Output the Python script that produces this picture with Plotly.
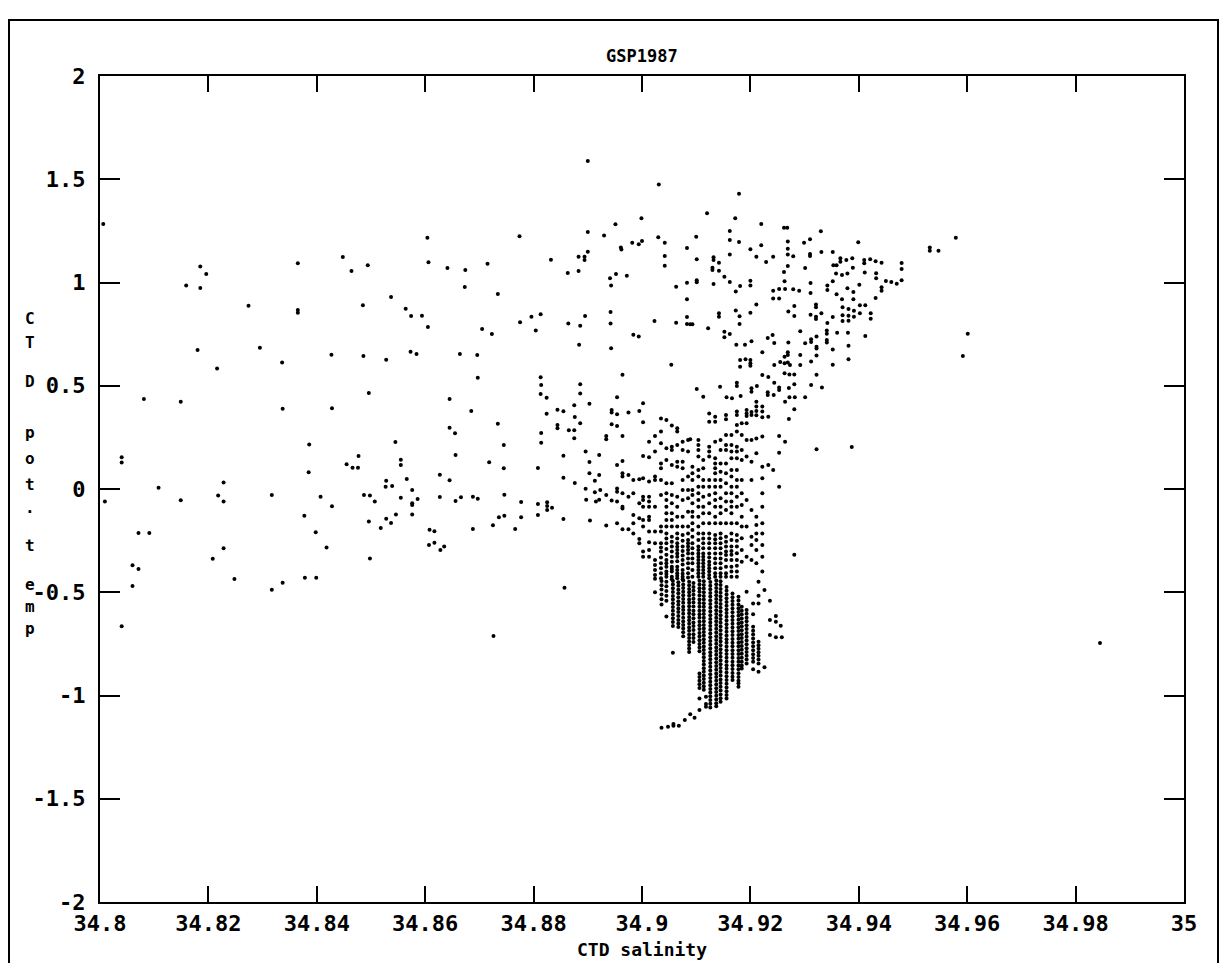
import plotly.graph_objects as go

# ---------------------------------------------------------------------------
# GSP 1987 CTD section: potential temperature vs salinity
# ---------------------------------------------------------------------------

x_ticks = [34.8, 34.82, 34.84, 34.86, 34.88, 34.9, 34.92, 34.94, 34.96, 34.98, 35.0]
x_labels = ["34.8", "34.82", "34.84", "34.86", "34.88", "34.9", "34.92", "34.94", "34.96", "34.98", "35"]
y_ticks = [-2, -1.5, -1, -0.5, 0, 0.5, 1, 1.5, 2]
y_labels = ["-2", "-1.5", "-1", "-0.5", "0", "0.5", "1", "1.5", "2"]

# Scattered samples west of the core (salinity, pot. temp)
west_pairs = [
    (34.8006, 1.283), (34.8081, 0.436), (34.8149, 0.423), (34.8159, 0.985), (34.8185, 1.077),
    (34.8196, 1.041), (34.8185, 0.973), (34.8180, 0.673), (34.8216, 0.583), (34.8274, 0.888),
    (34.8295, 0.684), (34.8336, 0.612), (34.8337, 0.389), (34.8365, 1.093), (34.8365, 0.867),
    (34.8365, 0.854), (34.8386, 0.216), (34.8427, 0.650), (34.8428, 0.391), (34.8448, 1.124),
    (34.8464, 1.056), (34.8494, 1.083), (34.8485, 0.890), (34.8486, 0.644), (34.8496, 0.465),
    (34.8537, 0.930), (34.8528, 0.626), (34.8545, 0.228), (34.8564, 0.873), (34.8574, 0.838),
    (34.8594, 0.839), (34.8605, 0.785), (34.8573, 0.665), (34.8584, 0.654), (34.8604, 1.217),
    (34.8606, 1.098), (34.8641, 1.070), (34.8674, 1.061), (34.8673, 0.978), (34.8645, 0.436),
    (34.8645, 0.297), (34.8655, 0.270), (34.8664, 0.654), (34.8696, 0.649), (34.8697, 0.539),
    (34.8685, 0.378), (34.8705, 0.775), (34.8723, 0.751), (34.8715, 1.091), (34.8734, 0.944),
    (34.8734, 0.316), (34.8745, 0.213), (34.8774, 1.224), (34.8775, 0.807), (34.8796, 0.834),
    (34.8804, 0.768), (34.8813, 0.846), (34.8813, 0.541), (34.8814, 0.504), (34.8813, 0.460),
    (34.8824, 0.442), (34.8824, 0.365), (34.8814, 0.271), (34.8814, 0.224), (34.8832, 1.110),
    (34.8844, 0.384), (34.8855, 0.376), (34.8844, 0.310), (34.8844, 0.294), (34.8865, 0.284),
    (34.8875, 0.284), (34.8875, 0.246), (34.8875, 0.405), (34.8876, 0.349), (34.8886, 0.318),
    (34.8886, 0.462), (34.8886, 0.507), (34.8903, 0.413), (34.8863, 1.046), (34.8883, 1.056),
    (34.8883, 1.125), (34.8894, 1.125), (34.8894, 1.109), (34.8900, 1.149), (34.8900, 1.245),
    (34.8900, 1.588), (34.8864, 0.801), (34.8886, 0.791), (34.8895, 0.838), (34.8884, 0.699),
    (34.8040, 0.154), (34.8040, 0.128), (34.8009, -0.060), (34.8108, 0.006), (34.8071, -0.213),
    (34.8091, -0.213), (34.8060, -0.369), (34.8071, -0.387), (34.8060, -0.470), (34.8040, -0.665),
    (34.8149, -0.055), (34.8218, -0.032), (34.8228, 0.031), (34.8228, -0.061), (34.8228, -0.287),
    (34.8208, -0.338), (34.8248, -0.436), (34.8317, -0.029), (34.8317, -0.488), (34.8337, -0.454),
    (34.8378, -0.430), (34.8399, -0.430), (34.8385, 0.081), (34.8407, -0.037), (34.8428, -0.084),
    (34.8377, -0.129), (34.8398, -0.210), (34.8418, -0.283), (34.8455, 0.120), (34.8466, 0.103),
    (34.8476, 0.103), (34.8477, 0.160), (34.8487, -0.029), (34.8498, -0.032), (34.8507, -0.061),
    (34.8496, -0.157), (34.8498, -0.336), (34.8528, 0.040), (34.8527, 0.011), (34.8539, 0.015),
    (34.8555, 0.142), (34.8555, 0.116), (34.8566, 0.048), (34.8576, -0.005), (34.8555, -0.042),
    (34.8576, -0.069), (34.8576, -0.078), (34.8586, -0.048), (34.8576, -0.123), (34.8528, -0.144),
    (34.8537, -0.165), (34.8546, -0.124), (34.8518, -0.189), (34.8608, -0.197), (34.8617, -0.205),
    (34.8607, -0.271), (34.8617, -0.260), (34.8628, -0.295), (34.8635, -0.278), (34.8627, 0.069),
    (34.8645, 0.042), (34.8627, -0.039), (34.8656, 0.165), (34.8656, -0.058), (34.8666, -0.040),
    (34.8688, -0.037), (34.8697, -0.047), (34.8688, -0.194), (34.8718, 0.129), (34.8745, 0.100),
    (34.8746, -0.028), (34.8746, -0.129), (34.8736, -0.137), (34.8725, -0.176), (34.8766, -0.194),
    (34.8777, -0.063), (34.8777, -0.137), (34.8726, -0.712), (34.8808, 0.102), (34.8808, -0.073),
    (34.8808, -0.126), (34.8825, -0.064), (34.8825, -0.082), (34.8825, -0.102), (34.8834, -0.091),
    (34.8855, 0.161), (34.8855, 0.055), (34.8876, 0.029), (34.8855, -0.145), (34.8857, -0.478),
    (34.8896, 0.181), (34.8903, 0.131), (34.8903, 0.076), (34.8913, 0.040), (34.8896, 0.001),
    (34.8897, -0.052), (34.8913, -0.016), (34.8915, -0.060), (34.8904, -0.152), (34.8921, 0.165),
    (34.8921, 0.068), (34.8921, -0.052),
]

# Warm, saline upper layer (salinity, pot. temp)
upper_pairs = [
    (34.9031, 1.474), (34.9179, 1.430), (34.8999, 1.311), (34.9120, 1.335), (34.9172, 1.311),
    (34.8951, 1.282), (34.8930, 1.227), (34.8961, 1.169), (34.8962, 1.160), (34.8982, 1.193),
    (34.8994, 1.185), (34.9000, 1.201), (34.9030, 1.219), (34.9042, 1.193), (34.9100, 1.222),
    (34.9083, 1.167), (34.9101, 1.112), (34.9042, 1.128), (34.9042, 1.081), (34.8941, 1.020),
    (34.8952, 1.041), (34.8943, 0.986), (34.8972, 1.033), (34.9063, 0.980), (34.9083, 0.999),
    (34.9101, 1.011), (34.9101, 1.001), (34.9083, 0.919), (34.8942, 0.857), (34.8942, 0.801),
    (34.8943, 0.681), (34.8984, 0.747), (34.8994, 0.739), (34.9023, 0.814), (34.9063, 0.805),
    (34.9083, 0.833), (34.9083, 0.799), (34.9089, 0.798), (34.9093, 0.798), (34.9122, 0.778),
    (34.9054, 0.602), (34.8964, 0.553), (34.8954, 0.444), (34.9101, 0.484), (34.9113, 0.447),
    (34.9220, 1.283), (34.9262, 1.265), (34.9268, 1.265), (34.9330, 1.248), (34.9162, 1.249),
    (34.9162, 1.206), (34.9179, 1.196), (34.9220, 1.180), (34.9269, 1.198), (34.9269, 1.164),
    (34.9269, 1.136), (34.9200, 1.161), (34.9162, 1.135), (34.9211, 1.125), (34.9242, 1.125),
    (34.9279, 1.127), (34.9299, 1.193), (34.9310, 1.209), (34.9310, 1.138), (34.9310, 1.128),
    (34.9331, 1.148), (34.9352, 1.148), (34.9399, 1.195), (34.9132, 1.122), (34.9132, 1.109),
    (34.9142, 1.096), (34.9130, 1.072), (34.9130, 1.061), (34.9142, 1.057), (34.9229, 1.099),
    (34.9269, 1.080), (34.9301, 1.070), (34.9366, 1.117), (34.9366, 1.101), (34.9377, 1.109),
    (34.9388, 1.117), (34.9353, 1.083), (34.9359, 1.083), (34.9389, 1.072), (34.9410, 1.109),
    (34.9410, 1.093), (34.9421, 1.112), (34.9431, 1.103), (34.9442, 1.096), (34.9479, 1.094),
    (34.9479, 1.065), (34.9479, 1.011), (34.9470, 0.994), (34.9460, 1.002), (34.9450, 1.007),
    (34.9432, 1.045), (34.9432, 1.020), (34.9442, 0.977), (34.9442, 0.960), (34.9411, 1.048),
    (34.9358, 1.043), (34.9369, 1.036), (34.9379, 1.044), (34.9352, 1.006), (34.9342, 0.985),
    (34.9342, 0.964), (34.9401, 0.989), (34.9379, 0.972), (34.9390, 0.954), (34.9359, 0.943),
    (34.9369, 0.919), (34.9390, 0.919), (34.9431, 0.925), (34.9402, 0.890), (34.9412, 0.890),
    (34.9370, 0.880), (34.9381, 0.872), (34.9391, 0.863), (34.9402, 0.851), (34.9422, 0.851),
    (34.9370, 0.841), (34.9381, 0.839), (34.9391, 0.834), (34.9422, 0.825), (34.9370, 0.814),
    (34.9381, 0.815), (34.9321, 0.894), (34.9321, 0.880), (34.9311, 0.844), (34.9321, 0.834),
    (34.9321, 0.823), (34.9331, 0.851), (34.9352, 0.833), (34.9342, 0.804), (34.9341, 0.767),
    (34.9341, 0.752), (34.9360, 0.757), (34.9380, 0.757), (34.9412, 0.741), (34.9341, 0.722),
    (34.9341, 0.710), (34.9352, 0.675), (34.9381, 0.694), (34.9381, 0.628), (34.9352, 0.602),
    (34.9322, 0.738), (34.9322, 0.689), (34.9322, 0.680), (34.9312, 0.725), (34.9312, 0.712),
    (34.9301, 0.706), (34.9322, 0.646), (34.9292, 0.764), (34.9312, 0.618), (34.9322, 0.553),
    (34.9332, 0.491), (34.9312, 0.504), (34.9301, 0.444), (34.9270, 0.709), (34.9241, 0.746),
    (34.9232, 0.731), (34.9244, 0.707), (34.9222, 0.662), (34.9190, 0.699), (34.9174, 0.699),
    (34.9202, 0.715), (34.9152, 0.762), (34.9162, 0.751), (34.9152, 0.735), (34.9142, 0.851),
    (34.9142, 0.834), (34.9173, 0.865), (34.9180, 0.836), (34.9180, 0.799), (34.9200, 0.854),
    (34.9211, 0.894), (34.9132, 0.993), (34.9152, 1.028), (34.9162, 1.002), (34.9173, 0.957),
    (34.9181, 0.983), (34.9200, 1.009), (34.9200, 0.986), (34.9242, 0.960), (34.9253, 0.968),
    (34.9264, 0.968), (34.9242, 0.922), (34.9253, 0.922), (34.9263, 1.006), (34.9262, 1.051),
    (34.9279, 0.967), (34.9290, 0.960), (34.9311, 0.998), (34.9311, 0.949), (34.9270, 0.859),
    (34.9281, 0.886), (34.9281, 0.838), (34.9269, 0.662), (34.9269, 0.649), (34.9263, 0.641),
    (34.9263, 0.609), (34.9269, 0.612), (34.9273, 0.600), (34.9255, 0.615), (34.9244, 0.600),
    (34.9292, 0.649), (34.9292, 0.600), (34.9263, 0.560), (34.9272, 0.555), (34.9281, 0.555),
    (34.9222, 0.552), (34.9233, 0.542), (34.9244, 0.515), (34.9212, 0.499), (34.9202, 0.488),
    (34.9202, 0.471), (34.9175, 0.515), (34.9175, 0.499), (34.9144, 0.495), (34.9156, 0.444),
    (34.9166, 0.439), (34.9182, 0.450), (34.9232, 0.468), (34.9232, 0.455), (34.9243, 0.455),
    (34.9253, 0.492), (34.9253, 0.479), (34.9271, 0.489), (34.9281, 0.507), (34.9272, 0.444),
    (34.9282, 0.444), (34.9579, 1.217), (34.9531, 1.170), (34.9531, 1.154), (34.9547, 1.154),
    (34.9601, 0.752), (34.9592, 0.644), (34.9200, 0.597), (34.9191, 0.628), (34.9181, 0.625),
    (34.9181, 0.592), (34.9200, 0.625), (34.9200, 0.609),
]

# Intermediate layer, loose samples (salinity, pot. temp)
middle_pairs = [
    (34.8944, 0.383), (34.8944, 0.370), (34.8954, 0.362), (34.8975, 0.370), (34.8995, 0.378),
    (34.8944, 0.313), (34.8954, 0.305), (34.8934, 0.257), (34.8934, 0.241), (34.8964, 0.257),
    (34.9089, 0.241), (34.8954, 0.116), (34.8964, 0.136), (34.8964, 0.076), (34.8964, 0.060),
    (34.8975, 0.068), (34.8984, 0.044), (34.8995, 0.047), (34.8923, -0.005), (34.8934, -0.029),
    (34.8944, -0.056), (34.8954, 0.003), (34.8954, -0.013), (34.8964, -0.021), (34.8975, -0.037),
    (34.8984, -0.021), (34.8954, -0.061), (34.8964, -0.086), (34.8964, -0.094), (34.8995, -0.069),
    (34.8984, -0.126), (34.8995, -0.142), (34.8984, -0.166), (34.8934, -0.177), (34.8954, -0.166),
    (34.8964, -0.195), (34.8975, -0.195), (34.8984, -0.215), (34.8995, -0.242), (34.8995, -0.263),
    (34.9233, 0.350), (34.9233, 0.116), (34.9242, 0.092), (34.9253, 0.257), (34.9253, 0.176),
    (34.9253, 0.011), (34.9264, 0.423), (34.9264, 0.229), (34.9271, 0.339), (34.9281, 0.386),
    (34.9281, -0.319), (34.9322, 0.192), (34.9387, 0.203),
]

# Deep and bottom water, loose samples (salinity, pot. temp)
deep_pairs = [
    (34.9236, -0.634), (34.9247, -0.615), (34.9247, -0.643), (34.9256, -0.662), (34.9236, -0.707),
    (34.9247, -0.718), (34.9258, -0.718), (34.9226, -0.863), (34.9236, -0.541), (34.9226, -0.489),
    (34.9024, -0.500), (34.9036, -1.156), (34.9048, -1.151), (34.9058, -1.138), (34.9058, -1.146),
    (34.9068, -1.146), (34.9079, -1.119), (34.9089, -1.091), (34.9097, -1.108), (34.9106, -1.070),
    (34.9106, -1.014), (34.9118, -1.054), (34.9118, -1.041), (34.9118, -1.006), (34.9845, -0.746),
]

# Profiles that share one salinity reading: (salinity, [pot. temps])
mid_profiles = [
    (34.9002, [0.415, 0.323, 0.160, 0.052, -0.037, -0.053, -0.086, -0.150, -0.182, -0.303, -0.328]),
    (34.9013, [0.229, 0.154, 0.036, -0.037, -0.061, -0.086, -0.134, -0.150, -0.206, -0.258, -0.295, -0.328]),
    (34.9024, [0.257, 0.181, 0.060, 0.044, -0.086, -0.206, -0.263, -0.344, -0.368, -0.392, -0.416, -0.435]),
    (34.9035, [0.342, 0.278, 0.221, 0.124, 0.100, 0.044, -0.029, -0.182, -0.206, -0.263, -0.283, -0.303,
               -0.332, -0.360, -0.384, -0.408, -0.432]),
    (34.9045, [0.334, 0.197, 0.141, 0.028, -0.021, -0.053, -0.086, -0.118, -0.150, -0.182, -0.215, -0.240,
               -0.263, -0.290, -0.319, -0.344, -0.360, -0.376, -0.400, -0.412, -0.425]),
    (34.9055, [0.307, 0.205, 0.189, 0.116, 0.028, -0.029, -0.069, -0.118, -0.150, -0.182, -0.231, -0.255,
               -0.279, -0.303, -0.328, -0.352, -0.376, -0.388, -0.400, -0.425, -0.437]),
    (34.9065, [0.294, 0.278, 0.213, 0.132, 0.108, -0.037, -0.086, -0.134, -0.182, -0.215, -0.240, -0.263,
               -0.280, -0.295, -0.312, -0.328, -0.350, -0.376, -0.392, -0.408, -0.420, -0.432]),
    (34.9075, [0.229, 0.189, 0.132, 0.100, 0.044, -0.005, -0.053, -0.134, -0.182, -0.223, -0.250, -0.279,
               -0.300, -0.322, -0.344, -0.366, -0.392, -0.410, -0.425, -0.437]),
    (34.9085, [0.237, 0.181, 0.060, -0.005, -0.045, -0.110, -0.182, -0.215, -0.247, -0.263, -0.279, -0.296,
               -0.312, -0.336, -0.360, -0.384, -0.408, -0.428]),
    (34.9093, [0.108, 0.076, 0.044, -0.005, -0.029, -0.069, -0.110, -0.134, -0.166, -0.199, -0.231, -0.263,
               -0.287, -0.312, -0.336, -0.360, -0.392, -0.425]),
    (34.9104, [0.237, 0.213, 0.189, 0.157, 0.092, 0.060, 0.011, -0.021, -0.053, -0.086, -0.134, -0.182,
               -0.215, -0.247, -0.279, -0.296, -0.312, -0.328, -0.344, -0.360, -0.376, -0.392, -0.408,
               -0.425]),
    (34.9113, [0.141, 0.100, 0.044, 0.011, -0.037, -0.086, -0.118, -0.166, -0.215, -0.240, -0.263, -0.287,
               -0.312, -0.328, -0.344, -0.360, -0.376, -0.392, -0.408, -0.425]),
    (34.9124, [0.366, 0.326, 0.205, 0.181, 0.157, 0.044, 0.011, -0.029, -0.069, -0.118, -0.166, -0.215,
               -0.240, -0.263, -0.287, -0.312, -0.332, -0.352, -0.368, -0.384, -0.400, -0.416, -0.432]),
    (34.9135, [0.350, 0.326, 0.229, 0.149, 0.124, 0.100, 0.076, 0.044, 0.011, -0.021, -0.053, -0.086,
               -0.134, -0.166, -0.223, -0.243, -0.263, -0.287, -0.312, -0.336, -0.360, -0.384, -0.408,
               -0.425]),
    (34.9145, [0.237, 0.189, 0.124, 0.084, 0.044, 0.011, -0.045, -0.086, -0.118, -0.166, -0.215, -0.239,
               -0.263, -0.287, -0.312, -0.336, -0.360, -0.384, -0.408, -0.425]),
    (34.9155, [0.358, 0.338, 0.262, 0.213, 0.189, 0.124, 0.076, 0.028, -0.021, -0.061, -0.102, -0.166,
               -0.231, -0.255, -0.279, -0.303, -0.320, -0.344, -0.376, -0.408, -0.425]),
    (34.9165, [0.262, 0.213, 0.181, 0.149, 0.092, 0.060, 0.011, -0.021, -0.061, -0.086, -0.118, -0.166,
               -0.215, -0.247, -0.279, -0.300, -0.319, -0.344, -0.376, -0.400, -0.425]),
    (34.9175, [0.375, 0.358, 0.310, 0.278, 0.205, 0.181, 0.149, 0.092, 0.044, 0.011, -0.037, -0.086,
               -0.166, -0.223, -0.251, -0.279, -0.311, -0.344, -0.372, -0.400, -0.425]),
    (34.9184, [0.318, 0.262, 0.189, 0.141, 0.044, -0.021, -0.077, -0.134, -0.182, -0.239, -0.295, -0.352]),
    (34.9193, [0.383, 0.366, 0.354, 0.318, 0.237, 0.157, -0.053, -0.182, -0.328]),
    (34.9202, [0.373, 0.358, 0.237, 0.132, 0.044, -0.102, -0.231, -0.271, -0.344]),
    (34.9211, [0.423, 0.399, 0.378, 0.357, 0.245, 0.173, -0.134, -0.174, -0.215, -0.247, -0.295, -0.360]),
    (34.9222, [0.399, 0.375, 0.347, 0.254, 0.108, 0.052, -0.021, -0.086, -0.166, -0.215, -0.271, -0.328,
               -0.400]),
]

deep_profiles = [
    (34.9036, [-0.445, -0.466, -0.487, -0.511, -0.534, -0.559]),
    (34.9045, [-0.449, -0.471, -0.494, -0.517, -0.541, -0.618]),
    (34.9057, [-0.446, -0.463, -0.481, -0.499, -0.518, -0.535, -0.553, -0.572, -0.589, -0.608, -0.626,
               -0.644, -0.663, -0.793]),
    (34.9067, [-0.452, -0.469, -0.488, -0.505, -0.524, -0.543, -0.561, -0.579, -0.596, -0.615, -0.634,
               -0.651, -0.668]),
    (34.9076, [-0.443, -0.462, -0.480, -0.497, -0.514, -0.533, -0.551, -0.570, -0.586, -0.604, -0.623,
               -0.642, -0.659, -0.676, -0.694, -0.713]),
    (34.9087, [-0.449, -0.466, -0.484, -0.500, -0.517, -0.535, -0.551, -0.568, -0.586, -0.602, -0.620,
               -0.636, -0.653, -0.671, -0.687, -0.705, -0.721, -0.738, -0.755, -0.773, -0.789]),
    (34.9095, [-0.455, -0.475, -0.493, -0.512, -0.532, -0.550, -0.569, -0.589, -0.607, -0.626, -0.646,
               -0.664, -0.683, -0.703, -0.721, -0.741]),
    (34.9106, [-0.444, -0.462, -0.481, -0.498, -0.516, -0.535, -0.552, -0.570, -0.589, -0.606, -0.624,
               -0.643, -0.660, -0.678, -0.697, -0.714, -0.732, -0.751, -0.768, -0.786, -0.893, -0.911,
               -0.928, -0.946, -0.964]),
    (34.9114, [-0.447, -0.465, -0.482, -0.500, -0.518, -0.535, -0.553, -0.570, -0.588, -0.605, -0.623,
               -0.640, -0.658, -0.675, -0.693, -0.710, -0.728, -0.745, -0.763, -0.780, -0.798, -0.815,
               -0.833, -0.850, -0.868, -0.885, -0.903, -0.920, -0.938, -0.955, -0.972]),
    (34.9126, [-0.450, -0.468, -0.486, -0.504, -0.521, -0.539, -0.557, -0.575, -0.593, -0.611, -0.629,
               -0.647, -0.664, -0.682, -0.700, -0.718, -0.736, -0.754, -0.772, -0.790, -0.807, -0.825,
               -0.843, -0.861, -0.879, -0.897, -0.915, -0.933, -0.950, -0.968, -0.986, -1.004, -1.022,
               -1.040, -1.058]),
    (34.9137, [-0.443, -0.461, -0.479, -0.497, -0.515, -0.533, -0.551, -0.569, -0.587, -0.605, -0.623,
               -0.641, -0.659, -0.677, -0.695, -0.713, -0.731, -0.749, -0.767, -0.785, -0.803, -0.821,
               -0.839, -0.857, -0.875, -0.893, -0.911, -0.929, -0.947, -0.965, -0.983, -1.001, -1.019,
               -1.037, -1.052]),
    (34.9145, [-0.447, -0.465, -0.484, -0.502, -0.520, -0.538, -0.557, -0.575, -0.593, -0.611, -0.630,
               -0.648, -0.666, -0.684, -0.703, -0.721, -0.739, -0.757, -0.776, -0.794, -0.812, -0.830,
               -0.849, -0.867, -0.885, -0.903, -0.922, -0.940, -0.958, -0.976, -0.995, -1.013, -1.030]),
    (34.9156, [-0.475, -0.493, -0.511, -0.529, -0.547, -0.565, -0.583, -0.601, -0.619, -0.637, -0.655,
               -0.673, -0.691, -0.709, -0.727, -0.745, -0.763, -0.781, -0.799, -0.817, -0.835, -0.853,
               -0.871, -0.889, -0.907, -0.925, -0.943, -0.961, -0.979, -0.997, -1.014]),
    (34.9167, [-0.506, -0.524, -0.542, -0.561, -0.579, -0.597, -0.616, -0.634, -0.652, -0.671, -0.689,
               -0.707, -0.726, -0.744, -0.762, -0.781, -0.799, -0.817, -0.836, -0.854, -0.872, -0.891,
               -0.909, -0.925]),
    (34.9178, [-0.522, -0.540, -0.559, -0.577, -0.596, -0.614, -0.633, -0.651, -0.670, -0.688, -0.707,
               -0.725, -0.744, -0.762, -0.781, -0.799, -0.818, -0.836, -0.855, -0.873, -0.892, -0.910,
               -0.929, -0.941, -0.958]),
    (34.9184, [-0.570, -0.589, -0.608, -0.627, -0.646, -0.665, -0.684, -0.703, -0.722, -0.741, -0.760,
               -0.779, -0.798, -0.817, -0.836, -0.855, -0.869]),
    (34.9193, [-0.497, -0.586, -0.604, -0.623, -0.641, -0.660, -0.678, -0.697, -0.715, -0.734, -0.752,
               -0.771, -0.789, -0.808, -0.826, -0.845]),
    (34.9205, [-0.554, -0.607, -0.667, -0.686, -0.705, -0.724, -0.743, -0.762, -0.781, -0.800, -0.818,
               -0.836, -0.873]),
    (34.9215, [-0.449, -0.517, -0.554, -0.740, -0.757, -0.774, -0.791, -0.808, -0.826, -0.845, -0.885]),
]

# ---------------------------------------------------------------------------
salinity, pot_temp = [], []
for group in (west_pairs, upper_pairs, middle_pairs, deep_pairs):
    for s, t in group:
        salinity.append(s)
        pot_temp.append(t)
for group in (mid_profiles, deep_profiles):
    for s, temps in group:
        salinity.extend([s] * len(temps))
        pot_temp.extend(temps)

FONT = "DejaVu Sans Mono"
INK = "black"

fig = go.Figure(
    go.Scatter(
        x=salinity,
        y=pot_temp,
        mode="markers",
        marker=dict(size=4, color=INK, line=dict(width=0)),
        hoverinfo="x+y",
        showlegend=False,
    )
)

axis_common = dict(
    showgrid=False,
    zeroline=False,
    showline=True,
    linecolor=INK,
    linewidth=2,
    mirror="ticks",
    ticks="inside",
    tickwidth=2,
    tickcolor=INK,
    tickfont=dict(family=FONT, size=22, color=INK, weight="bold"),
)

fig.update_xaxes(
    range=[34.8, 35.0],
    tickmode="array",
    tickvals=x_ticks,
    ticktext=x_labels,
    ticklen=16,
    ticklabelstandoff=1,
    **axis_common,
)
fig.update_yaxes(
    range=[-2, 2],
    tickmode="array",
    tickvals=y_ticks,
    ticktext=y_labels,
    ticklen=20,
    ticklabelstandoff=8,
    **axis_common,
)

# plot-area geometry in pixels, used to place text and the frame
W, H = 1227, 963
L, R, T, B = 100, 43, 76, 61
PW, PH = W - L - R, H - T - B


def px_x(x):
    return (x - L) / PW


def px_y(y):
    return (H - B - y) / PH


annotations = [
    dict(text="GSP1987", x=0.5, y=px_y(56), xref="paper", yref="paper",
         xanchor="center", yanchor="middle", showarrow=False,
         font=dict(family=FONT, size=17, color=INK, weight="bold")),
    dict(text="CTD salinity", x=0.5, y=px_y(949), xref="paper", yref="paper",
         xanchor="center", yanchor="middle", showarrow=False,
         font=dict(family=FONT, size=18, color=INK, weight="bold")),
]

# vertical, letter-stacked y-axis title (rows in pixels from the top)
y_title = "CTD pot.temp"
letter_rows = [318, 342, 381, None, 433, 458, 485, 507, 545, 584, 606, 628]
for ch, row in zip(y_title, letter_rows):
    if ch == " " or row is None:
        continue
    annotations.append(
        dict(text=ch, x=px_x(30), y=px_y(row), xref="paper", yref="paper",
             xanchor="center", yanchor="middle", showarrow=False,
             font=dict(family=FONT, size=16, color=INK, weight="bold"))
    )

fig.update_layout(
    width=W,
    height=H,
    autosize=False,
    margin=dict(l=L, r=R, t=T, b=B, pad=0),
    paper_bgcolor="white",
    plot_bgcolor="white",
    annotations=annotations,
    shapes=[
        dict(type="rect", xref="paper", yref="paper",
             x0=px_x(9), x1=px_x(1218), y0=px_y(975), y1=px_y(20),
             line=dict(color=INK, width=2), fillcolor="rgba(0,0,0,0)", layer="below"),
    ],
)

fig.write_html("out.html")
